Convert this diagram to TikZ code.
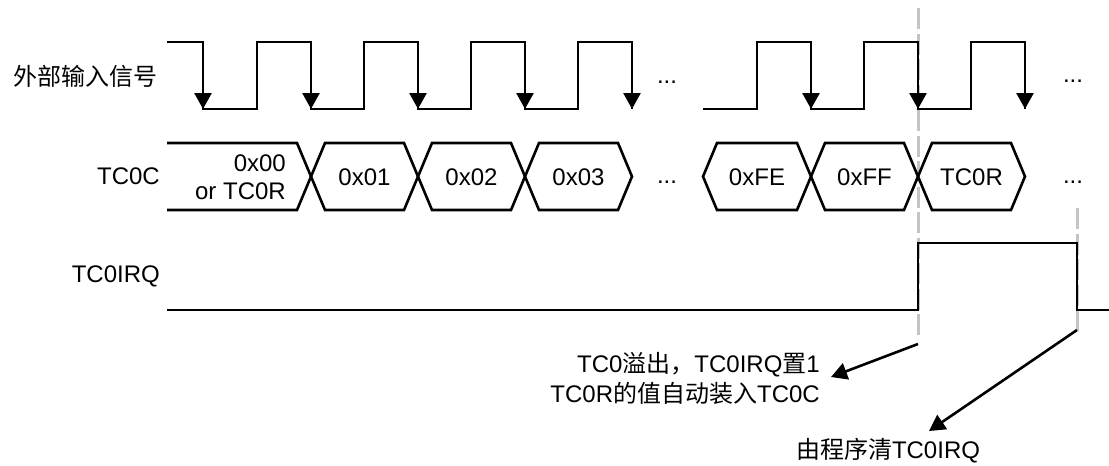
\documentclass[tikz,border=0pt]{standalone}
\usepackage{fontspec}
\setmainfont{Liberation Sans}
\newfontfamily\cjk{Noto Sans CJK SC}
\usetikzlibrary{arrows.meta,positioning,backgrounds,calc}
\definecolor{waveInk}{HTML}{000000}
\definecolor{guideGray}{HTML}{C4C4C4}
\newcommand{\zh}[1]{{\cjk #1}}

\begin{document}
\begin{tikzpicture}[
  x=1pt,
  y=-1pt,
  font=\fontsize{24}{30}\selectfont,
  wave/.style={draw=waveInk, line width=2.6pt, line join=miter},
  fall/.style={wave, -{Triangle[length=16pt,width=17pt]}},
  bus/.style={wave},
  guide/.style={draw=guideGray, line width=3pt, dash pattern=on 21pt off 4.5pt},
  lbl/.style={anchor=east, inner sep=0pt},
  val/.style={inner sep=0pt, align=center},
  note/.style={inner sep=0pt, align=right},
  pointer/.style={draw=waveInk, line width=2.6pt, -{Triangle[length=16pt,width=17pt]}}
]

\path[use as bounding box] (0,0) rectangle (1109,466);

\begin{scope}[on background layer]
  \draw[guide] (918,8) -- (918,335);
  \draw[guide] (1077,208) -- (1077,331);
\end{scope}

% signal names
\node[lbl] (nin)  at (158,76)  {\zh{外部输入信号}};
\node[lbl] (ncnt) at (160,176) {TC0C};
\node[lbl] (nirq) at (160,276) {TC0IRQ};

% input clock
\draw[wave] (167,42) -| (203,109) -| (257,42) -| (311,109) -| (364,42) -| (418,109)
  -| (471,42) -| (525,109) -| (578,42) -| (632,109);
\draw[wave] (703,109) -| (757,42) -| (811,109) -| (864,42) -| (918,109) -| (971,42) -| (1025,109);
\foreach \x in {203,311,418,525,632,811,918,1025}
  \draw[fall] (\x,42) -- (\x,109);
\node[val] (dclk1) at (667,82) {...};
\node[val] (dclk2) at (1073,81) {...};

% counter bus
\draw[bus] (167,143) -- (297,143) -- (311,176.5) -- (297,210) -- (167,210);
\foreach \a/\b in {311/418,418/525,525/632,703/811,811/918,918/1025}
  \draw[bus] (\a,176.5) -- (\a+14,143) -- (\b-14,143) -- (\b,176.5) -- (\b-14,210) -- (\a+14,210) -- cycle;
\node[val, anchor=east, align=right, font=\fontsize{24}{28}\selectfont] (v0) at (286,177) {0x00\\or TC0R};
\foreach \x/\t/\n in {364.5/0x01/v1, 471.5/0x02/v2, 578.5/0x03/v3, 757/0xFE/vfe, 864.5/0xFF/vff, 971.5/TC0R/vr}
  \node[val] (\n) at (\x,177) {\t};
\node[val] (dbus1) at (667,182) {...};
\node[val] (dbus2) at (1073,182) {...};

% interrupt flag
\draw[wave] (167,310) -- (918,310) |- (1077,243) |- (1109,310);

% notes
\node[note, anchor=east] (note1) at (820,378)
  {TC0\zh{溢出，}TC0IRQ\zh{置}1\\TC0R\zh{的值自动装入}TC0C};
\node[note] (note2) at (888,451) {\zh{由程序清}TC0IRQ};

\coordinate (ovf) at (918,344);
\coordinate (clr) at (1077,330);
\draw[pointer] (ovf) -- ([xshift=11pt,yshift=1pt]note1.east);
\draw[pointer] (clr) -- ([xshift=41pt,yshift=20pt]note2.center);
\end{tikzpicture}
\end{document}
